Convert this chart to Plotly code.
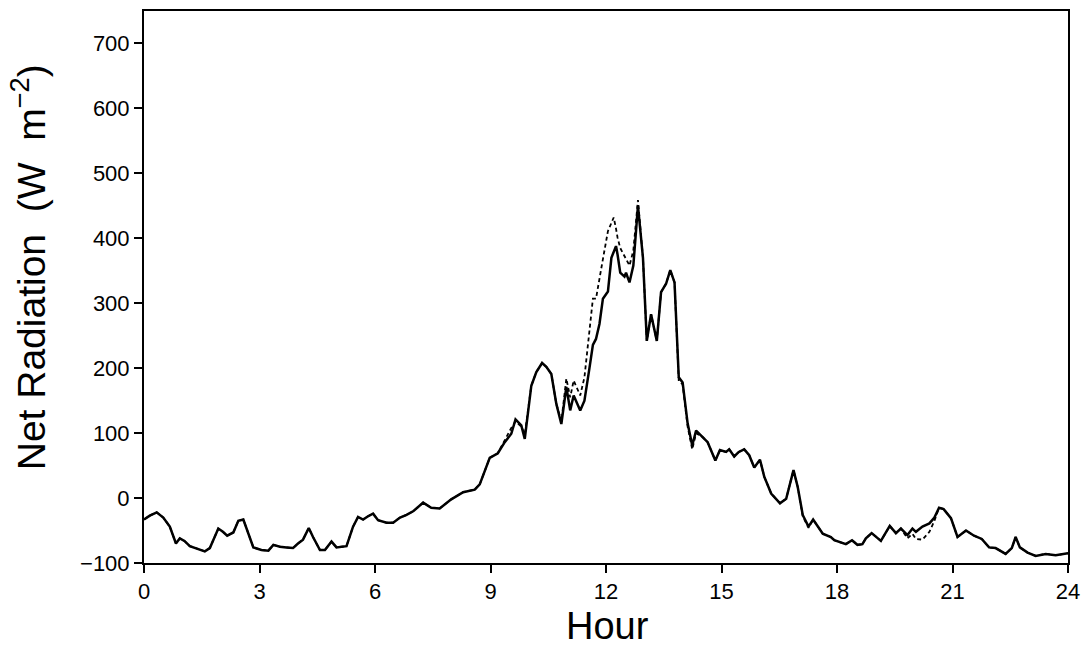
import plotly.graph_objects as go

hours = [0.00, 0.15, 0.33, 0.50, 0.67, 0.83, 0.93, 1.05, 1.19, 1.40, 1.58, 1.71, 1.93, 2.05, 2.16,
         2.32, 2.45, 2.58, 2.71, 2.84, 3.05, 3.23, 3.36, 3.53, 3.70, 3.87, 4.00, 4.13, 4.28, 4.39,
         4.57, 4.70, 4.87, 5.00, 5.26, 5.43, 5.56, 5.69, 5.82, 5.95, 6.08, 6.30, 6.47, 6.65, 6.82,
         7.00, 7.25, 7.46, 7.68, 7.98, 8.29, 8.59, 8.72, 8.98, 9.19, 9.37, 9.54, 9.65, 9.80, 9.89,
         10.06, 10.19, 10.34, 10.45, 10.58, 10.71, 10.84, 10.97, 11.07, 11.16, 11.33, 11.44, 11.57,
         11.66, 11.74, 11.83, 11.92, 12.05, 12.14, 12.20, 12.26, 12.30, 12.37, 12.48, 12.52, 12.61,
         12.71, 12.83, 12.96, 13.06, 13.17, 13.32, 13.43, 13.56, 13.67, 13.78, 13.89, 13.99, 14.12,
         14.24, 14.34, 14.51, 14.64, 14.84, 14.96, 15.12, 15.20, 15.33, 15.45, 15.59, 15.72, 15.85,
         16.00, 16.11, 16.29, 16.52, 16.68, 16.87, 16.98, 17.11, 17.26, 17.38, 17.63, 17.84, 17.93,
         18.23, 18.39, 18.53, 18.66, 18.75, 18.90, 19.14, 19.37, 19.53, 19.66, 19.83, 19.96, 20.05,
         20.22, 20.40, 20.53, 20.65, 20.77, 20.96, 21.13, 21.35, 21.56, 21.76, 21.95, 22.12, 22.38,
         22.54, 22.64, 22.75, 22.95, 23.16, 23.42, 23.68, 24.00]

net_rad_solid = [-33, -27, -22, -30, -44, -70, -62, -66, -74, -78, -82, -77, -47, -52, -58,
                 -53, -35, -33, -54, -76, -80, -81, -72, -75, -76, -77, -70, -64, -46, -60,
                 -80, -80, -67, -76, -74, -44, -29, -33, -28, -24, -34, -38, -38, -30, -26,
                 -20, -7, -15, -16, -2, 9, 13, 21, 62, 69, 86, 99, 121, 112, 91,
                 173, 194, 208, 202, 191, 145, 114, 171, 135, 158, 135, 150, 200,
                 236, 245, 268, 307, 318, 370, 380, 388, 375, 347, 341, 347, 332,
                 358, 450, 370, 242, 283, 242, 317, 330, 351, 332, 186, 178, 115,
                 81, 104, 94, 86, 58, 74, 71, 75, 64, 71, 75, 66, 47,
                 59, 33, 7, -8, -1, 43, 17, -26, -44, -33, -55, -60, -65,
                 -71, -65, -72, -71, -62, -54, -66, -43, -54, -47, -57, -47, -52,
                 -44, -39, -30, -15, -17, -31, -60, -50, -58, -63, -76, -77, -86,
                 -77, -60, -76, -84, -89, -86, -88, -85]

net_rad_dashed = [-33, -27, -22, -30, -44, -70, -62, -66, -74, -78, -82, -77, -47, -52, -58,
                  -53, -35, -33, -54, -76, -80, -81, -72, -75, -76, -77, -70, -64, -46, -60,
                  -80, -80, -67, -76, -74, -44, -29, -33, -28, -24, -34, -38, -38, -30, -26,
                  -20, -7, -15, -16, -2, 9, 13, 21, 62, 69, 90, 108, 118, 110, 98,
                  173, 194, 208, 202, 191, 145, 118, 184, 155, 181, 158, 186, 258,
                  307, 307, 340, 368, 411, 425, 432, 415, 401, 385, 373, 368, 358,
                  381, 459, 370, 242, 283, 242, 317, 330, 351, 332, 180, 175, 110,
                  75, 100, 94, 86, 58, 74, 71, 75, 64, 71, 75, 66, 47,
                  59, 33, 7, -8, -1, 43, 17, -28, -46, -33, -55, -60, -65,
                  -71, -65, -72, -71, -62, -54, -66, -43, -54, -47, -62, -55, -63,
                  -64, -52, -35, -15, -17, -31, -60, -50, -58, -63, -76, -77, -86,
                  -77, -60, -76, -84, -89, -86, -88, -85]

x_ticks = [0, 3, 6, 9, 12, 15, 18, 21, 24]
y_ticks = [-100, 0, 100, 200, 300, 400, 500, 600, 700]
x_title = "Hour"
y_title = "Net\u00a0Radiation\u00a0\u00a0(W\u00a0\u00a0m<sup>\u22122</sup>)"

fig = go.Figure()
fig.add_trace(go.Scatter(x=hours, y=net_rad_dashed, mode="lines",
                         line=dict(color="black", width=1.8, dash="4px,3px"),
                         showlegend=False))
fig.add_trace(go.Scatter(x=hours, y=net_rad_solid, mode="lines",
                         line=dict(color="black", width=2.5),
                         showlegend=False))

font_family = "Liberation Sans, Arial, sans-serif"
fig.update_layout(
    width=1089, height=648,
    margin=dict(l=144, r=20, t=9, b=85),
    paper_bgcolor="white", plot_bgcolor="white",
    font=dict(family=font_family, color="black"),
    xaxis=dict(range=[0, 24], tickvals=x_ticks, ticks="outside", ticklen=8, tickwidth=1.5,
               tickcolor="black", showline=True, linecolor="black", linewidth=2, mirror=True,
               showgrid=False, zeroline=False, tickfont=dict(size=22)),
    yaxis=dict(range=[-100, 750], tickvals=y_ticks, ticks="outside", ticklen=8, tickwidth=1.5,
               tickcolor="black", showline=True, linecolor="black", linewidth=2, mirror=True,
               showgrid=False, zeroline=False, tickfont=dict(size=22)),
    annotations=[
        dict(text=x_title, xref="paper", yref="paper", x=0.5016, y=-0.1135,
             xanchor="center", yanchor="middle", showarrow=False, font=dict(size=38),
             borderpad=0),
        dict(text=y_title, xref="paper", yref="paper", x=-0.1254, y=0.536,
             xanchor="center", yanchor="middle", showarrow=False, textangle=-90,
             font=dict(size=39), borderpad=0),
    ],
)

fig.write_html("out.html")
